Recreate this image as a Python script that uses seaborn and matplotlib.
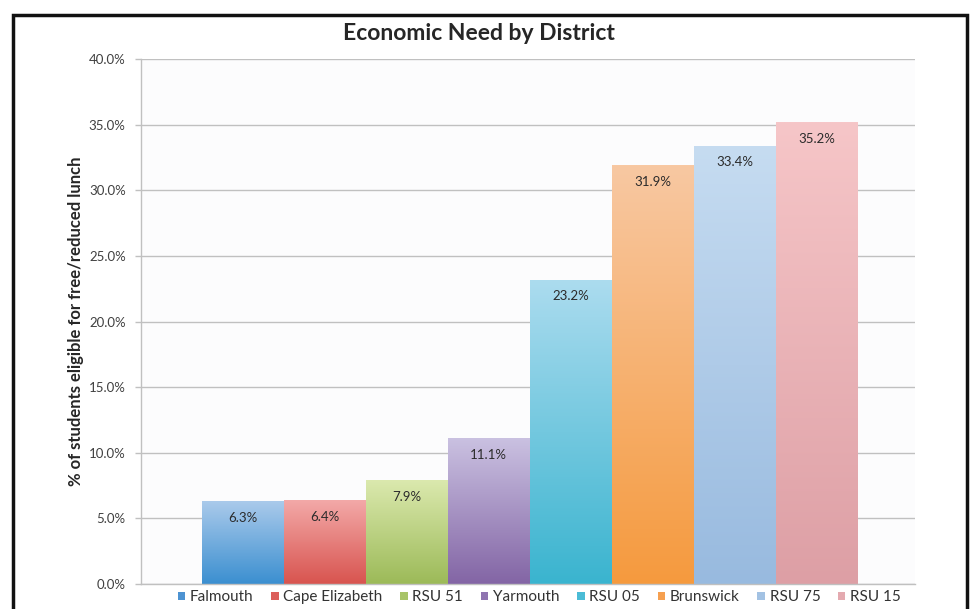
import numpy as np
import pandas as pd
from matplotlib import pyplot as plt
from matplotlib.patches import Patch, Rectangle
from matplotlib.colors import LinearSegmentedColormap
import seaborn as sns

districts = ['Falmouth', 'Cape Elizabeth', 'RSU 51', 'Yarmouth',
             'RSU 05', 'Brunswick', 'RSU 75', 'RSU 15']
pct_eligible = [6.3, 6.4, 7.9, 11.1, 23.2, 31.9, 33.4, 35.2]
y_ticks = [0, 5, 10, 15, 20, 25, 30, 35, 40]

# (top colour, bottom colour) of the Excel style gradient fill
top_colors = ['#aacaeb', '#f3a9a8', '#dbe9ae', '#cac1e1',
              '#acdcef', '#f8c8a2', '#c6dcf1', '#f6c6c8']
bottom_colors = ['#3b8fd0', '#d8544f', '#9cba58', '#8365a5',
                 '#3ab4cf', '#f59a3e', '#98badf', '#dd9fa5']
legend_colors = ['#4d93d2', '#dc5f5b', '#a8c468', '#8f74b0',
                 '#4bbcd6', '#f6a050', '#a3c2e3', '#e4aab0']

df = pd.DataFrame({'district': districts, 'pct': pct_eligible})

sns.set_style('white')
plt.rcParams['font.family'] = ['Lato', 'DejaVu Sans']

fig = plt.figure(figsize=(9.77, 6.09), dpi=100)
fig.patch.set_facecolor('white')
ax = fig.add_axes([0.1443, 0.041, 0.7922, 0.862])
ax.set_facecolor('#fcfcfd')

sns.barplot(data=df, x='district', y='pct', hue='district',
            palette=legend_colors, width=1.0, legend=False, ax=ax,
            edgecolor='none', linewidth=0)

# replace the flat fills by vertical gradients
for patch, top, bot in zip(ax.patches, top_colors, bottom_colors):
    x0, y0 = patch.get_x(), patch.get_y()
    w, h = patch.get_width(), patch.get_height()
    cmap = LinearSegmentedColormap.from_list('g', [bot, top])
    grad = np.linspace(0, 1, 256).reshape(-1, 1)
    im = ax.imshow(grad, cmap=cmap, origin='lower', aspect='auto',
                   extent=(x0, x0 + w, y0, y0 + h), zorder=2)
    im.set_clip_path(patch)
    patch.set_facecolor('none')

for patch, v in zip(ax.patches, pct_eligible):
    ax.annotate(f'{v:.1f}%', (patch.get_x() + patch.get_width() / 2, v),
                xytext=(0, -12), textcoords='offset points',
                ha='center', va='center', fontsize=9.5, color='#2b2b2b',
                zorder=4)

ax.set_xlim(-1.24, 8.2)
ax.set_ylim(0, 40)
ax.set_yticks(y_ticks)
ax.set_yticklabels([f'{t:.1f}%' for t in y_ticks], fontsize=9.5, color='#404040')
ax.set_xticks([])
ax.set_xlabel('')
ax.yaxis.grid(True, color='#c0c0c0', linewidth=1)
ax.set_axisbelow(True)
ax.tick_params(axis='y', length=4, width=1, color='#c0c0c0', pad=7, left=True)
for side in ['top', 'right']:
    ax.spines[side].set_visible(False)
for side in ['left', 'bottom']:
    ax.spines[side].set_color('#c0c0c0')
    ax.spines[side].set_linewidth(1)

ax.set_ylabel('% of students eligible for free/reduced lunch',
              fontsize=12, fontweight='bold', color='#262626')
ax.yaxis.set_label_coords(-0.074, 0.5)
fig.text(0.49, 0.945, 'Economic Need by District', ha='center', va='center',
         fontsize=16.5, fontweight='bold', color='#262626')

handles = [Patch(facecolor=c, edgecolor='none', label=d)
           for d, c in zip(districts, legend_colors)]
fig.legend(handles=handles, loc='center', bbox_to_anchor=(0.552, 0.019),
           ncol=8, frameon=False, fontsize=11, handlelength=0.5,
           handleheight=0.5, handletextpad=0.3, columnspacing=1.15,
           labelcolor='#333333')

# black frame around the chart (bottom edge is cut off)
fig.patches.append(Rectangle((13 / 977, -0.05), 954 / 977, 1.05 - 15 / 609,
                             transform=fig.transFigure, fill=False,
                             edgecolor='#111111', linewidth=2.5,
                             clip_on=False))

fig.savefig('out.png', dpi=100)
